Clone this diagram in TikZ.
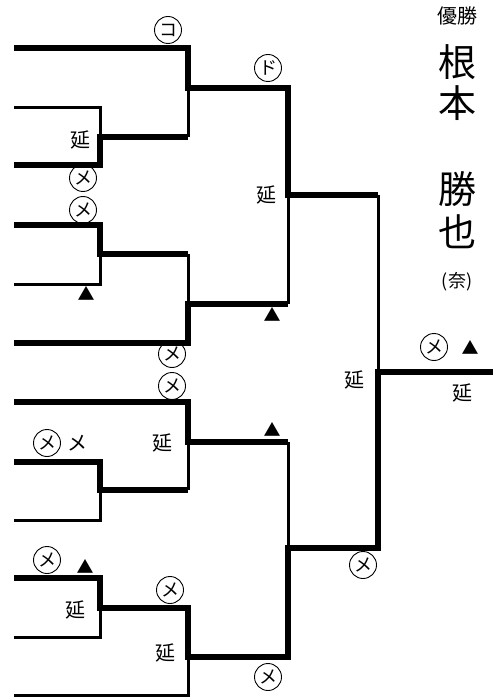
\documentclass[tikz,border=0pt]{standalone}
\usepackage{fontspec}
\setmainfont{Noto Sans CJK JP}
\usetikzlibrary{positioning}

\begin{document}
\begin{tikzpicture}[x=1pt, y=-1pt,
    win/.style={line width=6.5pt, line join=miter},
    lose/.style={line width=3pt},
    kana/.style={circle, draw, line width=0.9pt, minimum size=27pt, inner sep=0pt,
                 font=\fontsize{18}{18}\selectfont},
    ext/.style={font=\fontsize{20}{20}\selectfont, inner sep=0pt},
    tri/.style={font=\fontsize{17}{17}\selectfont, inner sep=0pt},
    bigname/.style={font=\fontsize{38}{38}\selectfont, inner sep=0pt}
  ]
    \useasboundingbox (0,0) rectangle (493,700);

    % entrants
    \coordinate (a1) at (14,48);  \coordinate (a2) at (14,108); \coordinate (a3) at (14,165);
    \coordinate (b1) at (14,225); \coordinate (b2) at (14,284); \coordinate (b3) at (14,343);
    \coordinate (c1) at (14,402); \coordinate (c2) at (14,462); \coordinate (c3) at (14,520);
    \coordinate (d1) at (14,578); \coordinate (d2) at (14,637); \coordinate (d3) at (14,695);

    % joints
    \coordinate (ja23) at (100,137); \coordinate (ja) at (188,88);
    \coordinate (jb12) at (100,254); \coordinate (jb) at (188,304);
    \coordinate (jtop) at (288,195);
    \coordinate (jc23) at (100,490); \coordinate (jc) at (188,442);
    \coordinate (jd12) at (100,608); \coordinate (jd) at (188,657);
    \coordinate (jbot) at (288,548);
    \coordinate (jfin) at (378,372);
    \coordinate (champ) at (493,372);

    % top half
    \draw[lose] (a2) -- (a2 -| ja23) -- (ja23);
    \draw[win] (a3) -- (a3 -| ja23) -- (ja23) -- (ja23 -| ja);
    \draw[lose] (ja23 -| ja) -- (ja);
    \draw[win] (a1) -- (a1 -| ja) -- (ja) -- (ja -| jtop) -- (jtop) -- (jtop -| jfin);
    \draw[lose] (b2) -- (b2 -| jb12) -- (jb12);
    \draw[win] (b1) -- (b1 -| jb12) -- (jb12) -- (jb12 -| jb);
    \draw[lose] (jb12 -| jb) -- (jb);
    \draw[win] (b3) -- (b3 -| jb) -- (jb) -- (jb -| jtop);
    \draw[lose] (jb -| jtop) -- (jtop);
    \draw[lose] (jtop -| jfin) -- (jfin);

    % bottom half
    \draw[lose] (c3) -- (c3 -| jc23) -- (jc23);
    \draw[win] (c2) -- (c2 -| jc23) -- (jc23) -- (jc23 -| jc);
    \draw[lose] (jc23 -| jc) -- (jc);
    \draw[win] (c1) -- (c1 -| jc) -- (jc) -- (jc -| jbot);
    \draw[lose] (jc -| jbot) -- (jbot);
    \draw[lose] (d2) -- (d2 -| jd12) -- (jd12);
    \draw[win] (d1) -- (d1 -| jd12) -- (jd12) -- (jd12 -| jd) -- (jd) -- (jd -| jbot)
               -- (jbot) -- (jbot -| jfin) -- (jfin) -- (champ);
    \draw[lose] (d3) -- (d3 -| jd) -- (jd);

    % marks
    \node[kana] (ko)  at (168,30)  {コ};
    \node[kana] (do)  at (268,68)  {ド};
    \node[ext]  (e1)  at (80,140)  {延};
    \node[kana] (m1)  at (83,178)  {メ};
    \node[kana] (m2)  at (83,210)  {メ};
    \node[tri]  (t1)  at (86,293)  {▲};
    \node[ext]  (e2)  at (266,195) {延};
    \node[tri]  (t2)  at (272,314) {▲};
    \node[kana] (m3)  at (172,354) {メ};
    \node[kana] (m4)  at (172,386) {メ};
    \node[ext]  (e3)  at (162,443) {延};
    \node[kana] (m5)  at (47,443)  {メ};
    \node[ext, right=6pt of m5] (m5b) {メ};
    \node[tri]  (t3)  at (272,429) {▲};
    \node[ext]  (e4)  at (354,380) {延};
    \node[kana] (m6)  at (434,347) {メ};
    \node[tri]  (t4)  at (470,347) {▲};
    \node[ext]  (e5)  at (462,393) {延};
    \node[kana] (m7)  at (363,565) {メ};
    \node[kana] (m8)  at (47,560)  {メ};
    \node[tri]  (t5)  at (85,566)  {▲};
    \node[ext]  (e6)  at (75,610)  {延};
    \node[kana] (m9)  at (170,590) {メ};
    \node[ext]  (e7)  at (165,653) {延};
    \node[kana] (m10) at (268,677) {メ};

    % winner
    \node[font=\fontsize{20}{20}\selectfont, inner sep=0pt] (title) at (457,16) {優勝};
    \node[bigname] (n1) at (457,62)  {根};
    \node[bigname] (n2) at (457,103) {本};
    \node[bigname] (n3) at (457,189) {勝};
    \node[bigname] (n4) at (457,232) {也};
    \node[font=\fontsize{18}{18}\selectfont, inner sep=0pt] (pref) at (457,282) {(奈)};
\end{tikzpicture}
\end{document}
